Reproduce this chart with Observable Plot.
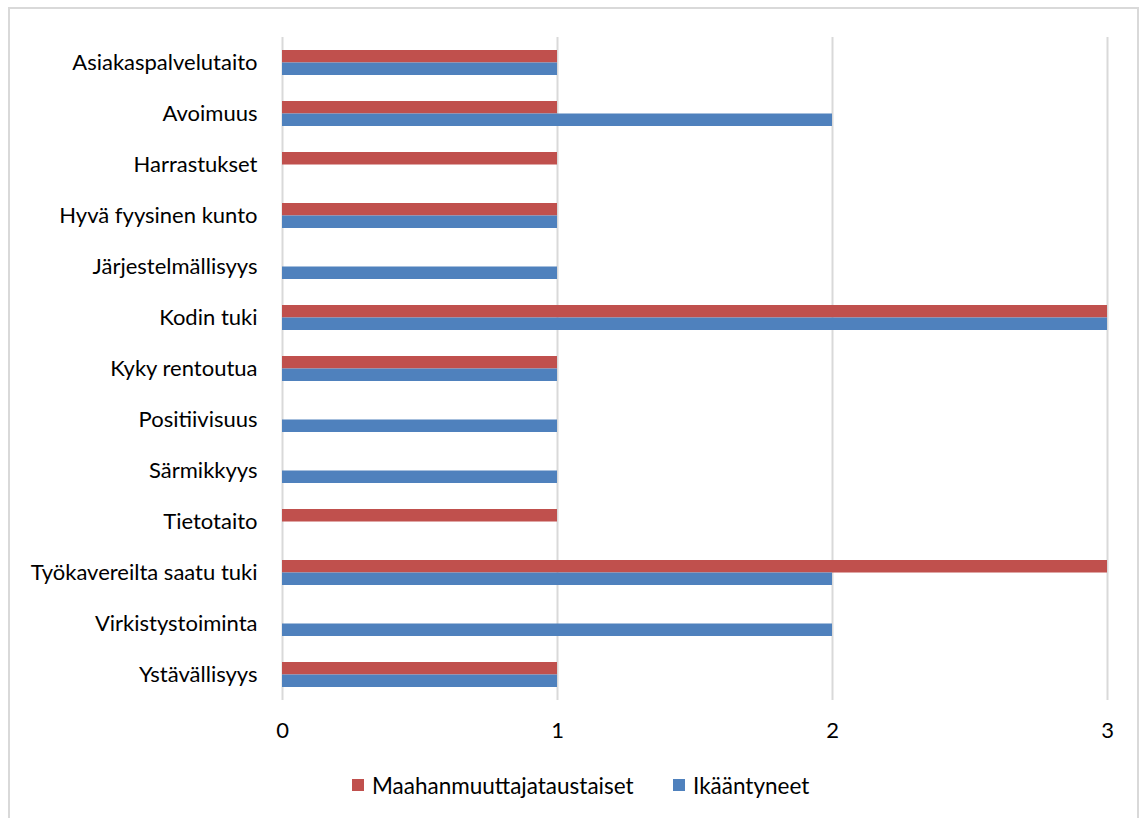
<!DOCTYPE html>
<html>
<head>
<meta charset="utf-8">
<script src="https://cdn.jsdelivr.net/npm/d3@7"></script>
<script src="https://cdn.jsdelivr.net/npm/@observablehq/plot@0.6"></script>
<style>
  html, body { margin: 0; padding: 0; background: #fff; }
  body { width: 1143px; height: 818px; position: relative; overflow: hidden; font-family: Lato, "Open Sans", sans-serif; }
  #frame { position: absolute; left: 8px; top: 7px; width: 1131px; height: 830px; border: 2px solid #d9d9d9; box-sizing: border-box; }
  #chart { position: absolute; left: 0; top: 0; }
  #legend { position: absolute; top: 770px; left: 0; width: 1143px; font-size: 22.5px; color: #000; }
  .item { position: absolute; top: 0; display: flex; align-items: center; height: 30px; }
  .sw { width: 12px; height: 12px; margin-right: 8px; }
</style>
</head>
<body>
<div id="frame"></div>
<div id="chart"></div>
<div id="legend"></div>
<script>
const categories = [
  "Asiakaspalvelutaito", "Avoimuus", "Harrastukset", "Hyvä fyysinen kunto",
  "Järjestelmällisyys", "Kodin tuki", "Kyky rentoutua", "Positiivisuus",
  "Särmikkyys", "Tietotaito", "Työkavereilta saatu tuki", "Virkistystoiminta",
  "Ystävällisyys"
];
const seriesNames = ["Maahanmuuttajataustaiset", "Ikääntyneet"];
const maahanmuuttajataustaiset = [1, 1, 1, 1, 0, 3, 1, 0, 0, 1, 3, 0, 1];
const ikaantyneet = [1, 2, 0, 1, 1, 3, 1, 1, 1, 0, 2, 2, 1];
const xTicks = [0, 1, 2, 3];
const colors = ["#C0504D", "#4F81BD"];

const redRows = categories.map((c, i) => ({category: c, value: maahanmuuttajataustaiset[i]})).filter(d => d.value > 0);
const blueRows = categories.map((c, i) => ({category: c, value: ikaantyneet[i]})).filter(d => d.value > 0);

const plotH = 760, plotTop = 37, plotBottom = 700;
const pad = 0.51;
const band = (plotBottom - plotTop) / categories.length;
const half = band * (1 - pad) / 2;

const chart = Plot.plot({
  width: 1143,
  height: plotH,
  marginLeft: 282,
  marginRight: 36,
  marginTop: plotTop,
  marginBottom: plotH - plotBottom,
  style: {fontFamily: "Lato, 'Open Sans', sans-serif", fontSize: "22px", color: "#000", background: "transparent"},
  x: {domain: [0, 3], ticks: xTicks, tickSize: 0, tickPadding: 22, tickFormat: d3.format("d"), label: null},
  y: {domain: categories, paddingInner: pad, paddingOuter: pad / 2, tickSize: 0, tickPadding: 25, label: null},
  marks: [
    Plot.gridX(xTicks, {stroke: "#d9d9d9", strokeOpacity: 1, strokeWidth: 2}),
    Plot.barX(redRows, {x: "value", y: "category", fill: colors[0], insetBottom: half}),
    Plot.barX(blueRows, {x: "value", y: "category", fill: colors[1], insetTop: half})
  ]
});
document.getElementById("chart").appendChild(chart);

const legend = document.getElementById("legend");
const lefts = [352, 673];
seriesNames.forEach((name, i) => {
  const it = document.createElement("div");
  it.className = "item";
  it.style.left = lefts[i] + "px";
  const sw = document.createElement("div");
  sw.className = "sw";
  sw.style.background = colors[i];
  const t = document.createElement("span");
  t.textContent = name;
  it.appendChild(sw);
  it.appendChild(t);
  legend.appendChild(it);
});
</script>
</body>
</html>
